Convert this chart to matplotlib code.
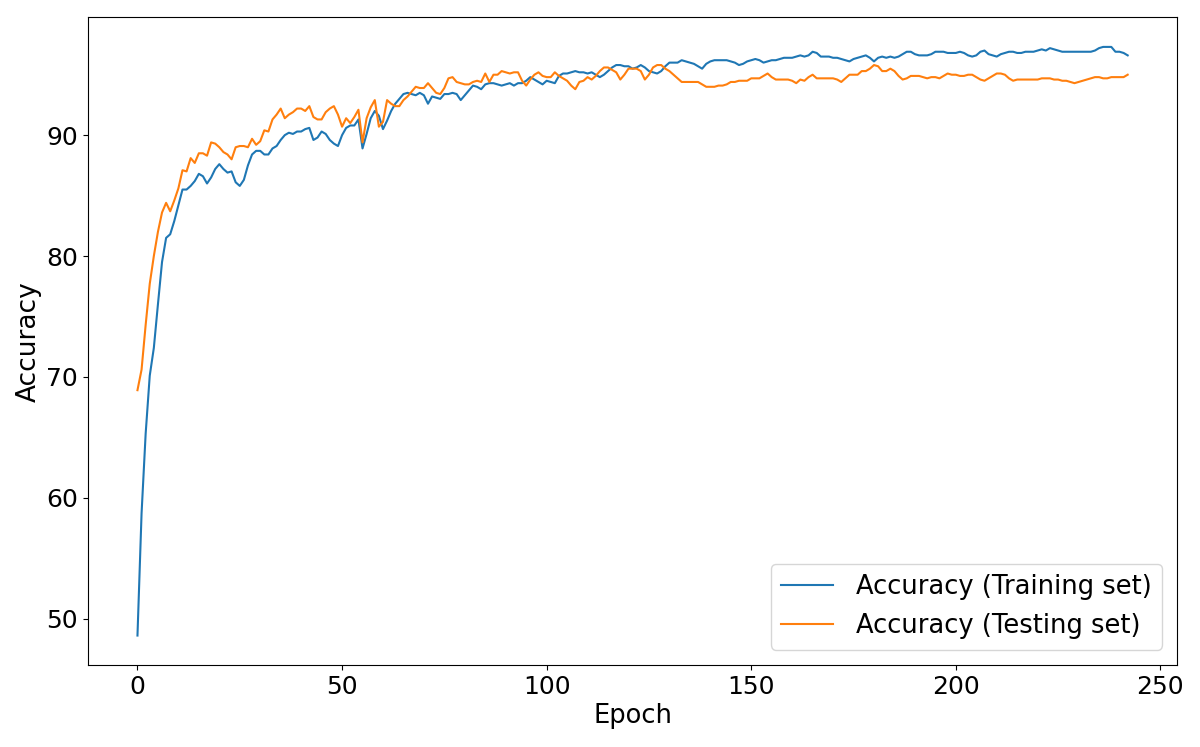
import matplotlib
matplotlib.use("Agg")
import matplotlib.pyplot as plt
import numpy as np

train_acc = [
48.6,58.7,65.3,70.1,72.4,76.0,79.5,81.5,81.8,82.9,
84.2,85.5,85.5,85.8,86.2,86.8,86.6,86.0,86.5,87.2,
87.6,87.2,86.9,87.0,86.1,85.8,86.3,87.5,88.4,88.7,
88.7,88.4,88.4,88.9,89.1,89.6,90.0,90.2,90.1,90.3,
90.3,90.5,90.6,89.6,89.8,90.3,90.1,89.6,89.3,89.1,
90.0,90.6,90.8,90.8,91.3,88.9,90.1,91.4,92.0,91.6,
90.5,91.2,92.0,92.6,93.0,93.4,93.5,93.4,93.3,93.5,
93.3,92.6,93.2,93.1,93.0,93.4,93.4,93.5,93.4,92.9,
93.3,93.7,94.1,94.0,93.8,94.2,94.3,94.3,94.2,94.1,
94.2,94.3,94.1,94.3,94.3,94.5,94.8,94.6,94.4,94.2,
94.5,94.4,94.3,94.9,95.1,95.1,95.2,95.3,95.2,95.2,
95.1,95.2,95.0,94.8,95.0,95.3,95.6,95.8,95.8,95.7,
95.7,95.5,95.6,95.8,95.6,95.3,95.2,95.1,95.3,95.7,
96.0,96.0,96.0,96.2,96.1,96.0,95.9,95.7,95.5,95.9,
96.1,96.2,96.2,96.2,96.2,96.1,96.0,95.8,95.9,96.1,
96.2,96.3,96.2,96.0,96.1,96.2,96.2,96.3,96.4,96.4,
96.4,96.5,96.6,96.5,96.6,96.9,96.8,96.5,96.5,96.5,
96.4,96.4,96.3,96.2,96.1,96.3,96.4,96.5,96.6,96.4,
96.1,96.4,96.5,96.4,96.5,96.4,96.5,96.7,96.9,96.9,
96.7,96.6,96.6,96.6,96.7,96.9,96.9,96.9,96.8,96.8,
96.8,96.9,96.8,96.6,96.5,96.6,96.9,97.0,96.7,96.6,
96.5,96.7,96.8,96.9,96.9,96.8,96.8,96.9,96.9,96.9,
97.0,97.1,97.0,97.2,97.1,97.0,96.9,96.9,96.9,96.9,
96.9,96.9,96.9,96.9,97.0,97.2,97.3,97.3,97.3,96.9,
96.9,96.8,96.6,
]

test_acc = [
68.9,70.6,74.3,77.7,80.0,82.0,83.6,84.4,83.7,84.6,
85.6,87.1,87.0,88.1,87.7,88.5,88.5,88.3,89.4,89.3,
89.0,88.6,88.4,88.0,89.0,89.1,89.1,89.0,89.7,89.2,
89.5,90.4,90.3,91.3,91.7,92.2,91.4,91.7,91.9,92.2,
92.2,92.0,92.4,91.5,91.3,91.3,91.9,92.2,92.4,91.7,
90.7,91.4,91.0,91.5,92.1,89.4,91.4,92.3,92.9,90.7,
91.1,92.9,92.6,92.4,92.4,92.9,93.2,93.6,94.0,93.9,
93.9,94.3,93.9,93.5,93.4,93.9,94.7,94.8,94.4,94.3,
94.2,94.2,94.4,94.5,94.4,95.1,94.4,95.0,95.0,95.3,
95.2,95.1,95.2,95.2,94.5,94.1,94.6,95.0,95.2,94.9,
94.8,94.8,95.2,94.9,94.7,94.5,94.1,93.8,94.4,94.5,
94.8,94.6,94.9,95.3,95.6,95.6,95.4,95.2,94.6,95.0,
95.5,95.5,95.5,95.3,94.6,95.0,95.6,95.8,95.8,95.5,
95.3,95.0,94.7,94.4,94.4,94.4,94.4,94.4,94.2,94.0,
94.0,94.0,94.1,94.1,94.2,94.4,94.4,94.5,94.5,94.5,
94.7,94.7,94.7,94.9,95.1,94.8,94.6,94.6,94.6,94.6,
94.5,94.3,94.6,94.5,94.8,95.0,94.7,94.7,94.7,94.7,
94.7,94.6,94.4,94.7,95.0,95.0,95.0,95.3,95.3,95.5,
95.8,95.7,95.3,95.3,95.5,95.3,94.9,94.6,94.7,94.9,
94.9,94.9,94.8,94.7,94.8,94.8,94.7,94.9,95.1,95.0,
95.0,94.9,94.9,95.0,95.0,94.8,94.6,94.5,94.7,94.9,
95.1,95.1,95.0,94.7,94.5,94.6,94.6,94.6,94.6,94.6,
94.6,94.7,94.7,94.7,94.6,94.6,94.5,94.5,94.4,94.3,
94.4,94.5,94.6,94.7,94.8,94.8,94.7,94.7,94.8,94.8,
94.8,94.8,95.0,
]

series_labels = ["Accuracy (Training set)", "Accuracy (Testing set)"]
x_label = "Epoch"
y_label = "Accuracy"

epochs = np.arange(len(train_acc))

plt.rcParams["font.family"] = ["DejaVu Sans"]
fig = plt.figure(figsize=(12, 7.47), dpi=100)
ax = fig.add_axes([0.0733, 0.1098, 0.9077, 0.8668])

ax.plot(epochs, train_acc, color="#1f77b4", linewidth=1.5, label=series_labels[0])
ax.plot(epochs, test_acc, color="#ff7f0e", linewidth=1.5, label=series_labels[1])

ax.set_xlabel(x_label, fontsize=18.5, labelpad=3)
ax.set_ylabel(y_label, fontsize=19, labelpad=3)
ax.set_xticks([0, 50, 100, 150, 200, 250])
ax.set_yticks([50, 60, 70, 80, 90])
ax.tick_params(labelsize=18)
ax.legend(loc="lower right", fontsize=18.5, handletextpad=0.9, borderaxespad=0.6)

fig.savefig("out.png", dpi=100)
